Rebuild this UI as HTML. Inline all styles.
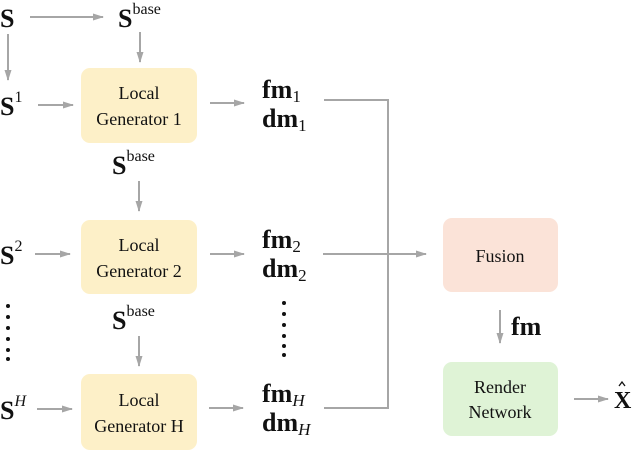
<!DOCTYPE html>
<html><head><meta charset="utf-8"><style>
html,body{margin:0;padding:0;background:#fff;}
svg{display:block;}
text{font-family:"Liberation Serif",serif;fill:#111;}
.b{font-weight:bold;font-size:26px;}
.sup{font-size:16px;}
.sub{font-size:17px;}
.lbl{font-size:18px;}
</style></head><body>
<svg width="632" height="450" viewBox="0 0 632 450" xmlns="http://www.w3.org/2000/svg">
<defs>
<marker id="a" markerWidth="11" markerHeight="8" refX="10" refY="4" orient="auto" markerUnits="userSpaceOnUse">
<path d="M0,0.5 L11,4 L0,7.5 Z" fill="#a6a6a6"/></marker>
</defs>
<g stroke="#a6a6a6" stroke-width="2" fill="none">
<line x1="30" y1="17" x2="103" y2="17" marker-end="url(#a)"/>
<line x1="8" y1="34" x2="8" y2="80" marker-end="url(#a)"/>
<line x1="140" y1="32" x2="140" y2="62" marker-end="url(#a)"/>
<line x1="38" y1="105" x2="73" y2="105" marker-end="url(#a)"/>
<line x1="210" y1="103" x2="244" y2="103" marker-end="url(#a)"/>
<line x1="139" y1="181" x2="139" y2="211" marker-end="url(#a)"/>
<line x1="35" y1="254" x2="70" y2="254" marker-end="url(#a)"/>
<line x1="210" y1="254" x2="244" y2="254" marker-end="url(#a)"/>
<line x1="139" y1="336" x2="139" y2="366" marker-end="url(#a)"/>
<line x1="37" y1="409" x2="72" y2="409" marker-end="url(#a)"/>
<line x1="209" y1="408" x2="243" y2="408" marker-end="url(#a)"/>
<polyline points="324,100 388,100 388,408 324,408"/>
<line x1="323" y1="254" x2="426" y2="254" marker-end="url(#a)"/>
<line x1="500" y1="310" x2="500" y2="343" marker-end="url(#a)"/>
<line x1="574" y1="399" x2="608" y2="399" marker-end="url(#a)"/>
</g>
<rect x="81" y="68" width="116" height="75" rx="9" fill="#fdf0c8"/>
<rect x="81" y="220" width="116" height="74" rx="9" fill="#fdf0c8"/>
<rect x="81" y="374" width="116" height="76" rx="9" fill="#fdf0c8"/>
<rect x="443" y="218" width="115" height="74" rx="9" fill="#fbe3d8"/>
<rect x="443" y="362" width="115" height="74" rx="9" fill="#dff3d6"/>
<g font-family="Liberation Serif" font-size="18" text-anchor="middle" fill="#111">
<text x="139" y="99">Local</text>
<text x="139" y="125">Generator 1</text>
<text x="139" y="251">Local</text>
<text x="139" y="277">Generator 2</text>
<text x="139" y="406">Local</text>
<text x="139" y="432">Generator H</text>
<text x="500" y="262">Fusion</text>
<text x="500" y="393">Render</text>
<text x="500" y="418">Network</text>
</g>
<text class="b" x="0" y="27">S</text>
<text x="118" y="27"><tspan class="b">S</tspan><tspan class="sup" dy="-13">base</tspan></text>
<text x="0" y="115"><tspan class="b">S</tspan><tspan class="sup" dy="-13">1</tspan></text>
<text x="112" y="174"><tspan class="b">S</tspan><tspan class="sup" dy="-13">base</tspan></text>
<text x="0" y="264"><tspan class="b">S</tspan><tspan class="sup" dy="-13">2</tspan></text>
<text x="112" y="329"><tspan class="b">S</tspan><tspan class="sup" dy="-13">base</tspan></text>
<text x="0" y="419"><tspan class="b">S</tspan><tspan class="sup" dy="-13" font-style="italic">H</tspan></text>
<text x="262" y="98"><tspan class="b">fm</tspan><tspan class="sub" dy="4">1</tspan></text>
<text x="262" y="127"><tspan class="b">dm</tspan><tspan class="sub" dy="4">1</tspan></text>
<text x="262" y="248"><tspan class="b">fm</tspan><tspan class="sub" dy="4">2</tspan></text>
<text x="262" y="277"><tspan class="b">dm</tspan><tspan class="sub" dy="4">2</tspan></text>
<text x="262" y="402"><tspan class="b">fm</tspan><tspan class="sub" dy="4" font-style="italic">H</tspan></text>
<text x="262" y="431"><tspan class="b">dm</tspan><tspan class="sub" dy="4" font-style="italic">H</tspan></text>
<text class="b" x="511" y="335">fm</text>
<text class="b" x="614" y="408" style="font-size:24px">X</text>
<path d="M619,386 L622,382 L625,386" stroke="#111" stroke-width="1.3" fill="none"/>
<g fill="#111">
<circle cx="8" cy="306" r="2"/><circle cx="8" cy="317" r="2"/><circle cx="8" cy="328" r="2"/><circle cx="8" cy="339" r="2"/><circle cx="8" cy="350" r="2"/><circle cx="8" cy="359" r="2"/>
<circle cx="284" cy="303" r="2"/><circle cx="284" cy="314" r="2"/><circle cx="284" cy="325" r="2"/><circle cx="284" cy="336" r="2"/><circle cx="284" cy="346" r="2"/><circle cx="284" cy="355" r="2"/>
</g>
</svg>
</body></html>
